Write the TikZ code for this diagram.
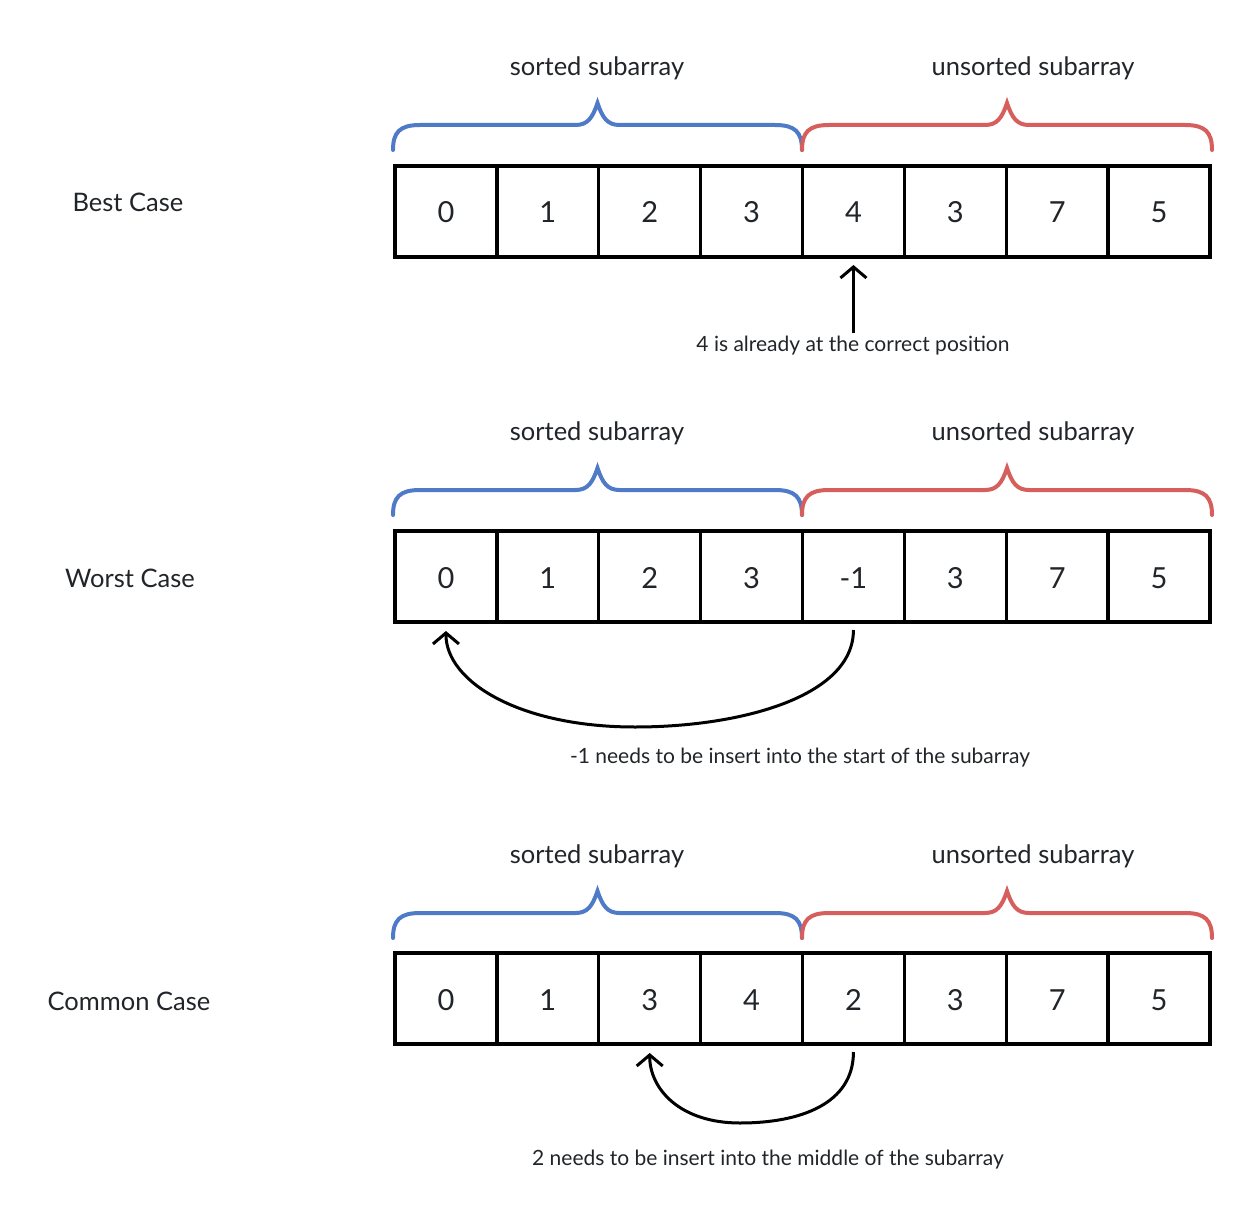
\documentclass[tikz,border=0pt]{standalone}
\usepackage{fontspec}
\setmainfont{Lato}
\usetikzlibrary{arrows.meta,calc}
\definecolor{txt}{RGB}{33,37,41}
\definecolor{bbrace}{RGB}{79,122,200}
\definecolor{rbrace}{RGB}{214,94,92}
\newcommand\mybrace[4]{%
  \draw[bracestyle,#4] (#1,#3) .. controls (#1,{#3-18}) and ({#1+7},{#3-25}) .. ({#1+27},{#3-25})
   -- ({(#1+#2)/2-22},{#3-25}) .. controls ({(#1+#2)/2-10},{#3-25}) and ({(#1+#2)/2-5},{#3-32}) .. ({(#1+#2)/2},{#3-47})
   .. controls ({(#1+#2)/2+5},{#3-32}) and ({(#1+#2)/2+10},{#3-25}) .. ({(#1+#2)/2+22},{#3-25})
   -- ({#2-27},{#3-25}) .. controls ({#2-7},{#3-25}) and (#2,{#3-18}) .. (#2,#3);}
\begin{document}
\begin{tikzpicture}[x=1pt,y=-1pt,
  cell/.style={draw=black,line width=3.3pt,minimum width=101.875pt,minimum height=91pt,inner sep=0pt,outer sep=0pt,font=\fontsize{29}{32}\selectfont,text=txt,text height=23pt,text depth=0pt},
  lbl/.style={font=\fontsize{25.5}{30}\selectfont,text=txt,inner sep=0pt},
  captxt/.style={font=\fontsize{21}{25}\selectfont,text=txt,inner sep=0pt},
  bracestyle/.style={line width=4pt,line cap=round},
  arr/.style={line width=3pt,-{Straight Barb[length=11pt,width=26pt,line width=3pt]}}]
\useasboundingbox[fill=white] (0,0) rectangle (1260,1222);
% rows
\foreach \r/\y/\vals in {1/211.5/{0,1,2,3,4,3,7,5},2/576.5/{0,1,2,3,-1,3,7,5},3/998.5/{0,1,3,4,2,3,7,5}}{
  \foreach \v [count=\i] in \vals {
    \node[cell] (c\r-\i) at ({395+(\i-0.5)*101.875},\y) {\v};
  }
}
% left labels
\node[lbl] (best) at (128,202.5) {Best Case};
\node[lbl] (worst) at (130,578.5) {Worst Case};
\node[lbl] (common) at (129,1001.5) {Common Case};
% brace labels
\foreach \r/\y in {1/68,2/433,3/856}{
  \node[lbl] (s\r) at (597,\y) {sorted subarray};
  \node[lbl] (u\r) at (1033,\y) {unsorted subarray};
}
% braces
\mybrace{393}{802}{150}{bbrace}
\mybrace{802}{1212}{150}{rbrace}
\mybrace{393}{802}{515}{bbrace}
\mybrace{802}{1212}{515}{rbrace}
\mybrace{393}{802}{938}{bbrace}
\mybrace{802}{1212}{938}{rbrace}
% captions
\node[captxt] (cap1) at (853,346) {4 is already at the correct position};
\node[captxt] (cap2) at (800,758) {-1 needs to be insert into the start of the subarray};
\node[captxt] (cap3) at (768,1160) {2 needs to be insert into the middle of the subarray};
% arrows
\draw[arr,shorten <=3pt,shorten >=8pt] (cap1.north -| c1-5.south) -- (c1-5.south);
\draw[arr,shorten <=8pt,shorten >=9pt] (c2-5.south) .. controls ++(0,75) and (740,727) .. (635,727)
  .. controls (520,727) and ($(c2-1.south)+(0,60)$) .. (c2-1.south);
\draw[arr,shorten <=8pt,shorten >=9pt] (c3-5.south) .. controls ++(0,60) and (800,1123) .. (740,1123)
  .. controls (680,1123) and ($(c3-3.south)+(0,45)$) .. (c3-3.south);
\end{tikzpicture}
\end{document}
